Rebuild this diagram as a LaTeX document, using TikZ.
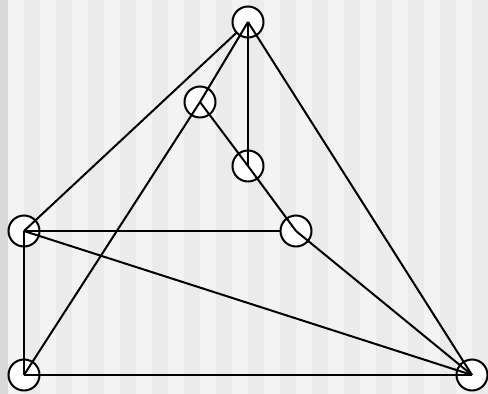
\documentclass[tikz,border=0pt]{standalone}
\pgfdeclarelayer{bottom}
\pgfdeclarelayer{middle}
\pgfsetlayers{bottom,middle,main}
\definecolor{stripeA}{HTML}{F3F3F3}
\definecolor{stripeB}{HTML}{EBEBEB}
\definecolor{edgeband}{HTML}{D9D9D9}
\tikzset{
  vtx/.style={circle, draw=black, fill=white, line width=2pt, minimum size=31pt, inner sep=0pt},
  edge/.style={draw=black, line width=2pt}
}
\begin{document}
\begin{tikzpicture}[x=1pt,y=-1pt]
\useasboundingbox (0,0) rectangle (488,394);
\begin{pgfonlayer}{bottom}
  \fill[edgeband] (0,0) rectangle (8,394);
  \foreach \k in {0,...,14} {
    \fill[stripeA] (8+32*\k,0) rectangle (24+32*\k,394);
    \fill[stripeB] (24+32*\k,0) rectangle (40+32*\k,394);
  }
  \node[vtx] (B) at (200,102) {};
  \node[vtx] (C) at (248,166) {};
  \node[vtx] (E) at (24,231) {};
  \node[vtx] (F) at (24,375) {};
  \node[vtx] (G) at (472,375) {};
\end{pgfonlayer}
\node[vtx] (A) at (248,22) {};
\node[vtx] (D) at (296,231) {};
\begin{pgfonlayer}{middle}
  \draw[edge] (A.center) -- (E.center);
  \draw[edge] (E.center) -- (D.center);
\end{pgfonlayer}
\draw[edge] (A.center) -- (C.center);
\draw[edge] (A.center) -- (B.center);
\draw[edge] (B.center) -- (F.center);
\draw[edge] (A.center) -- (G.center);
\draw[edge] (B.center) -- (C.center);
\draw[edge] (C.center) -- (D.center);
\draw[edge] (D.center) -- (G.center);
\draw[edge] (E.center) -- (G.center);
\draw[edge] (E.center) -- (F.center);
\draw[edge] (F.center) -- (G.center);
\end{tikzpicture}
\end{document}
